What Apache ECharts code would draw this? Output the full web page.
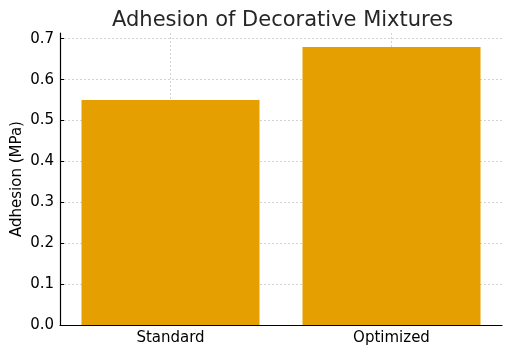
<!DOCTYPE html>
<html><head><meta charset="utf-8">
<script src="https://cdn.jsdelivr.net/npm/echarts@6/dist/echarts.min.js"></script>
<style>html,body{margin:0;padding:0;background:#fff}#c{width:512px;height:355px}</style>
</head><body><div id="c"></div>
<script>
const categories = ["Standard", "Optimized"];
const adhesion = [0.55, 0.68];
const yTicks = [0.0, 0.1, 0.2, 0.3, 0.4, 0.5, 0.6, 0.7];

const chart = echarts.init(document.getElementById('c'), null, {renderer: 'canvas'});
const font = 'DejaVu Sans';
chart.setOption({
  animation: false,
  backgroundColor: '#fff',
  title: {text: 'Adhesion of Decorative Mixtures', left: 107, top: 5,
    textStyle: {fontFamily: font, fontSize: 21, fontWeight: 'normal', color: '#262626'}},
  grid: {left: 60, right: 10, top: 33, bottom: 30, containLabel: false, outerBoundsMode: 'none'},
  xAxis: {
    type: 'category', data: categories,
    axisLine: {lineStyle: {color: '#000', width: 1.2}},
    axisTick: {alignWithLabel: true, inside: true, length: 4, lineStyle: {color: '#000'}},
    axisLabel: {fontFamily: font, fontSize: 15, color: '#000', margin: 6},
    splitLine: {show: true, alignWithLabel: true, lineStyle: {color: '#c8c8c8', type: [2, 2], width: 0.8}}
  },
  yAxis: {
    type: 'value', min: 0, max: 0.714, interval: 0.1,
    name: 'Adhesion (MPa)', nameLocation: 'middle', nameGap: 35, nameRotate: 90, nameMoveOverlap: false,
    nameTextStyle: {fontFamily: font, fontSize: 15, color: '#000'},
    axisLine: {show: true, lineStyle: {color: '#000', width: 1.2}},
    axisTick: {show: true, inside: true, length: 4, lineStyle: {color: '#000'}},
    axisLabel: {fontFamily: font, fontSize: 15, color: '#000', margin: 6, showMaxLabel: false,
      formatter: v => v.toFixed(1)},
    splitLine: {show: true, showMaxLine: false, lineStyle: {color: '#c8c8c8', type: [2, 2], width: 0.8}}
  },
  series: [{
    type: 'bar', data: adhesion, barWidth: 178,
    itemStyle: {color: '#E69F00'}
  }]
});
</script></body></html>
